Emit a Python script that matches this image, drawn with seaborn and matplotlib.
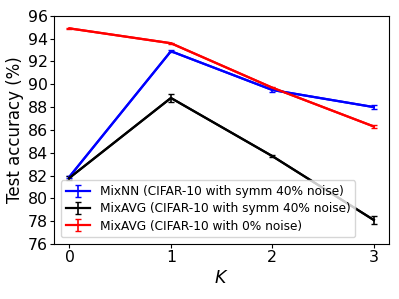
import matplotlib
matplotlib.use("Agg")
import matplotlib.pyplot as plt
import seaborn as sns
import numpy as np
import pandas as pd

# Data
k_values = [0, 1, 2, 3]
mixnn_40 = [81.9, 92.9, 89.5, 88.0]
mixnn_40_err = [0.1, 0.1, 0.15, 0.18]
mixavg_40 = [81.8, 88.8, 83.7, 78.1]
mixavg_40_err = [0.2, 0.35, 0.1, 0.35]
mixavg_0 = [94.9, 93.6, 89.7, 86.3]
mixavg_0_err = [0.05, 0.05, 0.05, 0.1]

labels = ["MixNN (CIFAR-10 with symm 40% noise)",
          "MixAVG (CIFAR-10 with symm 40% noise)",
          "MixAVG (CIFAR-10 with 0% noise)"]
colors = ["blue", "black", "red"]

def main():
    plt.rcParams['font.family'] = ['DejaVu Sans']

    fig, ax = plt.subplots(figsize=(3.99, 2.99), dpi=100)

    series = [(mixnn_40, mixnn_40_err), (mixavg_40, mixavg_40_err), (mixavg_0, mixavg_0_err)]
    for (vals, errs), lab, col in zip(series, labels, colors):
        df = pd.DataFrame({"K": k_values, "acc": vals})
        sns.lineplot(data=df, x="K", y="acc", color=col, linewidth=1.6, ax=ax, legend=False)
        ax.errorbar(k_values, vals, yerr=errs, color=col, linewidth=1.6,
                    elinewidth=1.2, capsize=2, label=lab)

    ax.set_xlim(-0.15, 3.15)
    ax.set_ylim(76, 96)
    ax.set_xticks(k_values)
    ax.set_yticks(np.arange(76, 97, 2))
    ax.tick_params(labelsize=11.3, length=3, pad=1.5)
    ax.set_xlabel("$K$", fontsize=12.5, labelpad=3)
    ax.set_ylabel("Test accuracy (%)", fontsize=12, labelpad=3)
    ax.legend(loc="lower left", fontsize=8.7, handlelength=2.0,
              labelspacing=0.35, borderaxespad=0.55)

    fig.subplots_adjust(left=0.136, right=0.975, top=0.947, bottom=0.184)
    fig.savefig("out.png", dpi=100)

if __name__ == "__main__":
    main()
